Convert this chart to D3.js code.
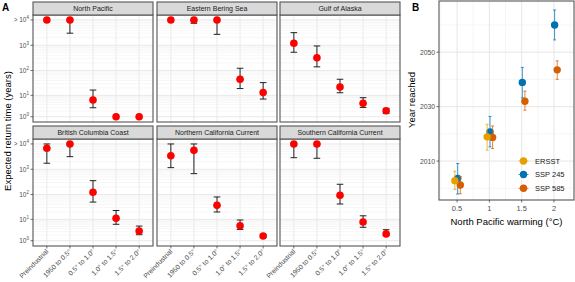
<!DOCTYPE html>
<html lang="en">
  <head>
    <meta charset="utf-8">
    <title>Return time and year reached</title>
    <script src="https://d3js.org/d3.v7.min.js"></script>
    <style>
    body { margin: 0; background: #fff; }
    svg { font-family: "Liberation Sans", Arial, sans-serif; }
    </style>
  </head>
  <body>
    <div id="chart"></div>
    <script>
        // ---- panel A data ----
        const regions = ["North Pacific", "Eastern Bering Sea", "Gulf of Alaska",
                         "British Columbia Coast", "Northern California Current", "Southern California Current"]
        const periods = ["Preindustrial", "1950 to 0.5°", "0.5° to 1.0°", "1.0° to 1.5°", "1.5° to 2.0°"]
        // expected return time (years), 10000 means "> 10^4"
        const returnTime = [
            [10000, 10000, 6.4, 1, 1],
            [10000, 10000, 10000, 45, 13],
            [1200, 320, 22, 4.6, 2.1],
            [6800, 10000, 123, 11, 3.1],
            [3400, 5600, 37, 5.4, 1.8],
            [10000, 10000, 93, 7.7, 2.3]
        ]
        const returnLow = [
            [null, 3000, 2.9, null, null],
            [null, 7400, 2700, 19, 7],
            [530, 140, 12.8, 3.0, 1.5],
            [1730, 3150, 50, 6.2, 2.1],
            [1160, 670, 20, 3.7, 1.6],
            [2870, 2720, 42, 4.6, 2.0]
        ]
        const returnHigh = [
            [null, 10000, 16.5, null, null],
            [null, 10000, 10000, 123, 33],
            [3150, 940, 45, 8, 2.7],
            [10000, 10000, 354, 23, 5.2],
            [10000, 10000, 80, 9.4, 2.1],
            [10000, 10000, 255, 14, 3.6]
        ]
        const yTicksA = [1, 10, 100, 1000, 10000]
        const yTickExp = ["0", "1", "2", "3", "4"]

        // ---- panel B data ----
        const warming = [0.5, 1, 1.5, 2]
        const seriesNames = ["ERSST", "SSP 245", "SSP 585"]
        const seriesColors = ["#E69F00", "#0072B2", "#D55E00"]
        const ersstYear = [2002.8, 2018.9, null, null]
        const ersstLow = [1999.6, 2014, null, null]
        const ersstHigh = [2006.3, 2023.5, null, null]
        const ssp245Year = [2003.6, 2020.7, 2038.9, 2060]
        const ssp245Low = [1997.9, 2015.2, 2033.2, 2054.5]
        const ssp245High = [2009.1, 2026.4, 2044.4, 2065.5]
        const ssp585Year = [2001.2, 2018.7, 2032, 2043.5]
        const ssp585Low = [1998, 2014.6, 2028.7, 2040]
        const ssp585High = [2004.3, 2022.9, 2035.7, 2046.8]
        const yearTicks = [2010, 2030, 2050]
        const xTicksB = [0.5, 1, 1.5, 2]

        const measurements = { width: 575, height: 282 }

        const svg = d3.select("#chart").append("svg")
            .attr("width", measurements.width)
            .attr("height", measurements.height)

        // ================= PANEL A =================
        const colX = [33, 157, 280]
        const panelW = 120
        const rowTop = [15, 139]
        const panelH = 107
        const stripH = 13

        svg.append("text").attr("x", 2).attr("y", 11)
            .style("font-weight", "bold").style("font-size", "10px").text("A")

        svg.append("text")
            .attr("transform", "translate(11," + 131 + ") rotate(-90)")
            .style("text-anchor", "middle").style("font-size", "9.5px").attr("fill", "#000")
            .text("Expected return time (years)")

        regions.forEach(function(name, i) {
            const col = i % 3, row = Math.floor(i / 3)
            const x0 = colX[col], y0 = rowTop[row]
            const g = svg.append("g")

            const scaleX = d3.scalePoint().domain(periods)
                .range([x0, x0 + panelW]).padding(0.6)
            const scaleY = d3.scaleSymlog().constant(0.5)
                .domain([0.43, 15700]).range([y0 + panelH, y0])

            // background
            g.append("rect").attr("x", x0).attr("y", y0).attr("width", panelW).attr("height", panelH)
                .attr("fill", "#fff")

            // minor grid
            const minor = []
            for (let k = 0; k < 4; k++) for (let m = 2; m <= 9; m++) minor.push(m * Math.pow(10, k))
            g.selectAll(".minor").data(minor).enter().append("line")
                .attr("x1", x0).attr("x2", x0 + panelW)
                .attr("y1", d => scaleY(d)).attr("y2", d => scaleY(d))
                .attr("stroke", "#eeeeee").attr("stroke-width", 0.5)
            g.selectAll(".major").data(yTicksA).enter().append("line")
                .attr("x1", x0).attr("x2", x0 + panelW)
                .attr("y1", d => scaleY(d)).attr("y2", d => scaleY(d))
                .attr("stroke", "#e3e3e3").attr("stroke-width", 0.8)
            g.selectAll(".vgrid").data(periods).enter().append("line")
                .attr("x1", d => scaleX(d)).attr("x2", d => scaleX(d))
                .attr("y1", y0).attr("y2", y0 + panelH)
                .attr("stroke", "#e6e6e6").attr("stroke-width", 0.8)

            // error bars
            const pts = periods.map((p, j) => ({ p: p, v: returnTime[i][j], lo: returnLow[i][j], hi: returnHigh[i][j] }))
            const eb = pts.filter(d => d.lo !== null)
            g.selectAll(".eb").data(eb).enter().append("path")
                .attr("d", function(d) {
                    const x = scaleX(d.p), a = scaleY(d.hi), b = scaleY(d.lo)
                    return "M" + (x - 3.3) + "," + a + "H" + (x + 3.3) +
                           "M" + x + "," + a + "V" + b +
                           "M" + (x - 3.3) + "," + b + "H" + (x + 3.3)
                })
                .attr("fill", "none").attr("stroke", "#222").attr("stroke-width", 1)

            g.selectAll(".pt").data(pts).enter().append("circle")
                .attr("cx", d => scaleX(d.p)).attr("cy", d => scaleY(d.v))
                .attr("r", 3.8).attr("fill", "#FF0000")

            // border
            g.append("rect").attr("x", x0).attr("y", y0).attr("width", panelW).attr("height", panelH)
                .attr("fill", "none").attr("stroke", "#555").attr("stroke-width", 1.1)

            // strip
            g.append("rect").attr("x", x0).attr("y", y0 - stripH).attr("width", panelW).attr("height", stripH)
                .attr("fill", "#d9d9d9").attr("stroke", "#555").attr("stroke-width", 1.1)
            g.append("text").attr("x", x0 + panelW / 2).attr("y", y0 - 4)
                .style("text-anchor", "middle").style("font-size", "7px").attr("fill", "#1a1a1a")
                .text(name)

            // y axis on left column
            if (col === 0) {
                yTicksA.forEach(function(t, k) {
                    const y = scaleY(t)
                    g.append("line").attr("x1", x0 - 2.5).attr("x2", x0).attr("y1", y).attr("y2", y)
                        .attr("stroke", "#333").attr("stroke-width", 0.7)
                    const txt = g.append("text").attr("x", x0 - 4).attr("y", y + 2.5)
                        .style("text-anchor", "end").style("font-size", "6.5px").attr("fill", "#4d4d4d")
                    txt.append("tspan").text(k === 4 ? "> 10" : "10")
                    txt.append("tspan").attr("dy", -3).style("font-size", "4.5px").text(yTickExp[k])
                })
            }

            // x axis on bottom row
            if (row === 1) {
                periods.forEach(function(p) {
                    const x = scaleX(p)
                    g.append("line").attr("x1", x).attr("x2", x).attr("y1", y0 + panelH).attr("y2", y0 + panelH + 2.5)
                        .attr("stroke", "#333").attr("stroke-width", 0.7)
                    g.append("text")
                        .attr("transform", "translate(" + (x + 2) + "," + (y0 + panelH + 6) + ") rotate(-45)")
                        .style("text-anchor", "end").style("font-size", "6.8px").attr("fill", "#4d4d4d")
                        .text(p)
                })
            }
        })

        // ================= PANEL B =================
        const bx0 = 439, bx1 = 574, by0 = 1, by1 = 200
        const scaleXB = d3.scaleLinear().domain([0.22, 2.31]).range([bx0, bx1])
        const scaleYB = d3.scaleLinear().domain([1995.7, 2068.8]).range([by1, by0])

        svg.append("text").attr("x", 412).attr("y", 11)
            .style("font-weight", "bold").style("font-size", "10px").text("B")

        const gb = svg.append("g")
        gb.append("rect").attr("x", bx0).attr("y", by0).attr("width", bx1 - bx0).attr("height", by1 - by0)
            .attr("fill", "#fff")

        const minorY = [2000, 2020, 2040, 2060]
        gb.selectAll(".myb").data(minorY).enter().append("line")
            .attr("x1", bx0).attr("x2", bx1).attr("y1", d => scaleYB(d)).attr("y2", d => scaleYB(d))
            .attr("stroke", "#f2f2f2").attr("stroke-width", 0.7)
        const minorX = [0.25, 0.75, 1.25, 1.75, 2.25]
        gb.selectAll(".mxb").data(minorX).enter().append("line")
            .attr("y1", by0).attr("y2", by1).attr("x1", d => scaleXB(d)).attr("x2", d => scaleXB(d))
            .attr("stroke", "#f2f2f2").attr("stroke-width", 0.7)
        gb.selectAll(".gyb").data(yearTicks).enter().append("line")
            .attr("x1", bx0).attr("x2", bx1).attr("y1", d => scaleYB(d)).attr("y2", d => scaleYB(d))
            .attr("stroke", "#e6e6e6").attr("stroke-width", 1)
        gb.selectAll(".gxb").data(xTicksB).enter().append("line")
            .attr("y1", by0).attr("y2", by1).attr("x1", d => scaleXB(d)).attr("x2", d => scaleXB(d))
            .attr("stroke", "#e6e6e6").attr("stroke-width", 1)

        const seriesData = [
            { name: "SSP 245", col: seriesColors[1], off: 0.01, y: ssp245Year, lo: ssp245Low, hi: ssp245High },
            { name: "SSP 585", col: seriesColors[2], off: 0.05, y: ssp585Year, lo: ssp585Low, hi: ssp585High },
            { name: "ERSST", col: seriesColors[0], off: -0.035, y: ersstYear, lo: ersstLow, hi: ersstHigh }
        ]
        seriesData.forEach(function(s) {
            const rows = warming.map((w, j) => ({ w: w + s.off, y: s.y[j], lo: s.lo[j], hi: s.hi[j] }))
                .filter(d => d.y !== null)
            gb.selectAll(null).data(rows).enter().append("path")
                .attr("d", function(d) {
                    const x = scaleXB(d.w), a = scaleYB(d.hi), b = scaleYB(d.lo)
                    return "M" + (x - 1.5) + "," + a + "H" + (x + 1.5) +
                           "M" + x + "," + a + "V" + b +
                           "M" + (x - 1.5) + "," + b + "H" + (x + 1.5)
                })
                .attr("fill", "none").attr("stroke", s.col).attr("stroke-opacity", 0.75).attr("stroke-width", 1)
            gb.selectAll(null).data(rows).enter().append("circle")
                .attr("cx", d => scaleXB(d.w)).attr("cy", d => scaleYB(d.y))
                .attr("r", 3.7).attr("fill", s.col)
        })

        gb.append("rect").attr("x", bx0).attr("y", by0).attr("width", bx1 - bx0).attr("height", by1 - by0)
            .attr("fill", "none").attr("stroke", "#555").attr("stroke-width", 1.1)

        // axes
        yearTicks.forEach(function(t) {
            const y = scaleYB(t)
            gb.append("line").attr("x1", bx0 - 2.5).attr("x2", bx0).attr("y1", y).attr("y2", y)
                .attr("stroke", "#333").attr("stroke-width", 0.7)
            gb.append("text").attr("x", bx0 - 4).attr("y", y + 2.5)
                .style("text-anchor", "end").style("font-size", "6.8px").attr("fill", "#4d4d4d").text(t)
        })
        xTicksB.forEach(function(t) {
            const x = scaleXB(t)
            gb.append("line").attr("x1", x).attr("x2", x).attr("y1", by1).attr("y2", by1 + 2.5)
                .attr("stroke", "#333").attr("stroke-width", 0.7)
            gb.append("text").attr("x", x).attr("y", by1 + 11)
                .style("text-anchor", "middle").style("font-size", "7.5px").attr("fill", "#4d4d4d").text(t)
        })
        svg.append("text").attr("x", (bx0 + bx1) / 2).attr("y", 225)
            .style("text-anchor", "middle").style("font-size", "9.5px").text("North Pacific warming (°C)")
        svg.append("text").attr("transform", "translate(415," + 100 + ") rotate(-90)")
            .style("text-anchor", "middle").style("font-size", "9.5px").text("Year reached")

        // legend
        const legendY = [161, 174.5, 188.3]
        seriesNames.forEach(function(n, k) {
            const lx = 523.5, ly = legendY[k]
            gb.append("line").attr("x1", lx - 5).attr("x2", lx + 5).attr("y1", ly).attr("y2", ly)
                .attr("stroke", seriesColors[k]).attr("stroke-opacity", 0.75).attr("stroke-width", 1)
            gb.append("circle").attr("cx", lx).attr("cy", ly).attr("r", 3.7).attr("fill", seriesColors[k])
            gb.append("text").attr("x", 535).attr("y", ly + 2.8)
                .style("font-size", "7.5px").attr("fill", "#1a1a1a").text(n)
        })
    </script>
  </body>
</html>
